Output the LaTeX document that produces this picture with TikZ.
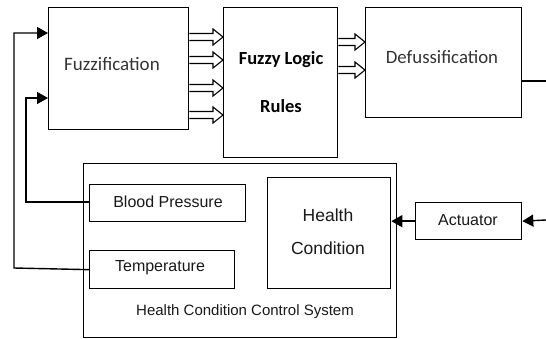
\documentclass[tikz,border=0pt]{standalone}
\usepackage{fontspec}
\setmainfont{Liberation Sans}
\newfontfamily\calib{Carlito}
\usetikzlibrary{arrows.meta,calc}
\begin{document}
\begin{tikzpicture}[x=1pt,y=-1pt,
  box/.style={draw,line width=1.3pt,inner sep=0pt,anchor=north west},
  ln/.style={line width=1.4pt},
  tri/.style={ln,-{Triangle[length=11pt,width=12pt]}},
  blk/.style={line width=1.1pt,line join=miter,to path={let \p1=(\tikztostart),\p2=(\tikztotarget) in
     (\x1,\y1+3.5) -- (\x2-10,\y1+3.5) -- (\x2-10,\y1+8) -- (\x2,\y1) -- (\x2-10,\y1-8) -- (\x2-10,\y1-3.5) -- (\x1,\y1-3.5)}},
  cal/.style={font=\calib\fontsize{19}{22}\selectfont, text=black!80},
  ari/.style={font=\fontsize{16}{19}\selectfont, text=black!90}]
\useasboundingbox (0,0) rectangle (546,338);
% top boxes
\node[box,minimum width=140pt,minimum height=122pt] (fuzz) at (48,7) {};
\node[cal] at (112,64) {Fuzzification};
\node[box,minimum width=114pt,minimum height=150pt] (rules) at (223,7) {};
\node[font=\calib\bfseries\fontsize{18.5}{22}\selectfont] at (281,60) {Fuzzy Logic};
\node[font=\calib\bfseries\fontsize{18.5}{22}\selectfont] at (281,106) {Rules};
\node[box,minimum width=156pt,minimum height=110pt] (defuz) at (365,7) {};
\node[cal,font=\calib\fontsize{18.8}{22}\selectfont] at (442,57) {Defussification};
% bottom system
\node[box,minimum width=313pt,minimum height=174pt] (sys) at (83,163) {};
\node[ari,font=\fontsize{15}{18}\selectfont] at (245,312) {Health Condition Control System};
\node[box,minimum width=156pt,minimum height=37pt] (bp) at (89,184) {};
\node[ari] at (168,202) {Blood Pressure};
\node[box,minimum width=145pt,minimum height=38pt] (temp) at (89,250) {};
\node[ari] at (160,268) {Temperature};
\node[box,minimum width=123pt,minimum height=111pt] (hc) at (267,177) {};
\node[ari,font=\fontsize{17.5}{20}\selectfont] at (328,215) {Health};
\node[ari,font=\fontsize{17.5}{20}\selectfont] at (328,248) {Condition};
\node[box,minimum width=106pt,minimum height=37pt] (act) at (415,202) {};
\node[ari] at (468,220) {Actuator};
% coordinates
\coordinate (tin) at (546,220);
\coordinate (tout) at (546,81);
\coordinate (c1) at (14,268);
\coordinate (c2) at (26,202);
% block arrows
\foreach \yy in {37,60,88,115}
  \draw[blk] (fuzz.east |- 0,\yy) to (rules.west |- 0,\yy);
\foreach \yy in {42,70}
  \draw[blk] (rules.east |- 0,\yy) to (defuz.west |- 0,\yy);
% feedback
\draw[tri] (temp.west) -- (c1) |- (fuzz.west |- 0,33);
\draw[tri] (bp.west |- c2) -- (c2) |- (fuzz.west |- 0,98);
\draw[ln] (defuz.east |- tout) -- (tout);
\draw[tri] (tin) -- (act.east);
\draw[tri] (act.west) -- (hc.east |- act.west);
\end{tikzpicture}
\end{document}
